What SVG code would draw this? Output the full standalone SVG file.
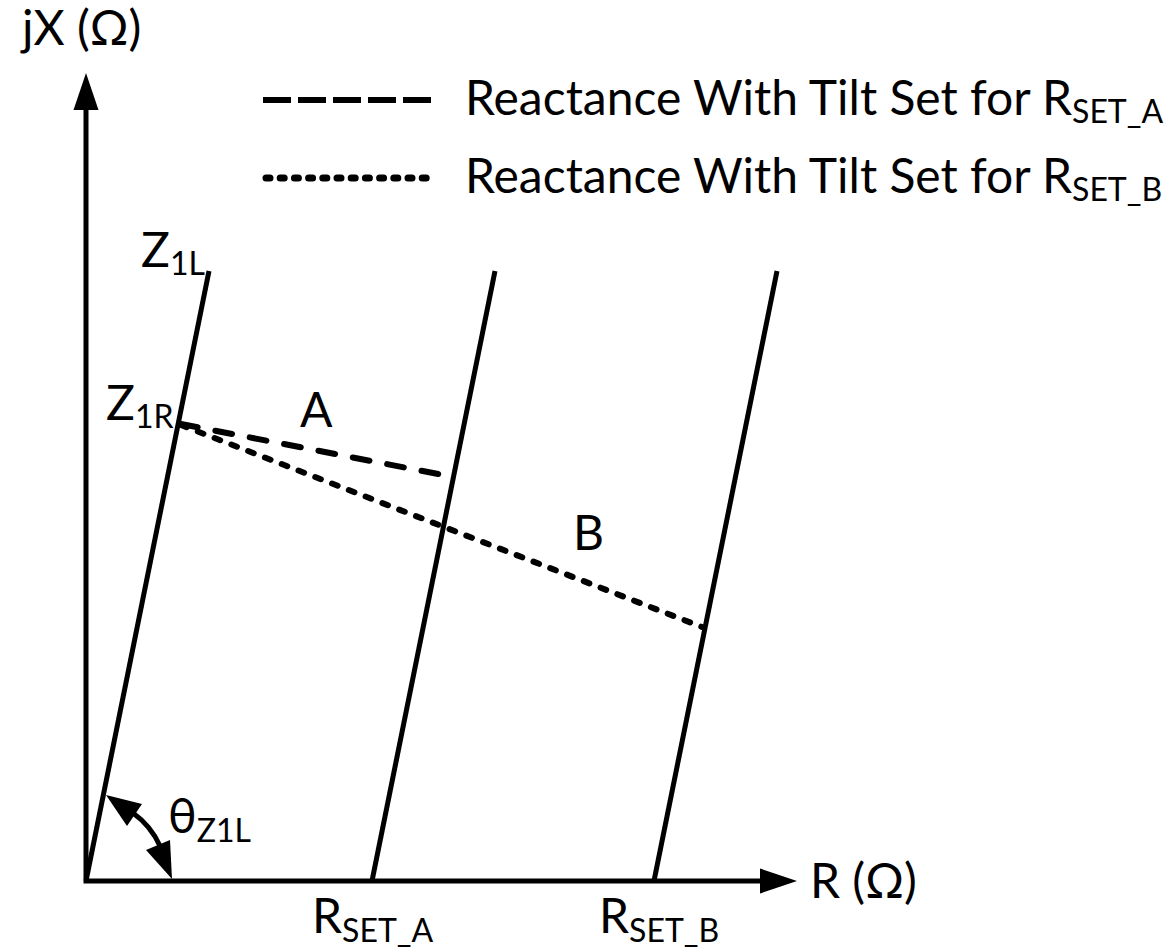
<svg xmlns="http://www.w3.org/2000/svg" width="1176" height="950" viewBox="0 0 1176 950">
<style>
text{font-family:Lato,"Open Sans","Liberation Sans",sans-serif;fill:#000;font-size:48px}
.sub{font-size:32px}
.ln{stroke:#000;stroke-width:5;fill:none}
.dash{stroke:#000;stroke-width:6;fill:none;stroke-linecap:round;stroke-dasharray:17 18}
.dot{stroke:#000;stroke-width:6;fill:none;stroke-linecap:round;stroke-dasharray:6 12}
.ah{fill:#000;stroke:none}
</style>
<rect width="1176" height="950" fill="#fff"/>
<g id="axes">
<path class="ln" d="M86,108 L86,881 L762,881" stroke-linejoin="miter"/>
<polygon class="ah" points="86,73 73.5,110 98.5,110"/>
<polygon class="ah" points="797,881 760,868.5 760,893.5"/>
<text x="22" y="45">jX (Ω)</text>
<text x="810" y="898">R (Ω)</text>
</g>
<g id="legend">
<line x1="263" y1="100" x2="431" y2="100" stroke="#000" stroke-width="6" stroke-dasharray="28 7"/>
<line x1="266" y1="178" x2="428" y2="178" stroke="#000" stroke-width="7" stroke-linecap="round" stroke-dasharray="4 10.2"/>
<text x="465" y="115">Reactance With Tilt Set for R<tspan class="sub" dy="8">SET_A</tspan></text>
<text x="465" y="193">Reactance With Tilt Set for R<tspan class="sub" dy="8">SET_B</tspan></text>
</g>
<g id="connectors">
<line id="z1l-line" class="ln" x1="86" y1="881" x2="209" y2="271"/>
<line id="rseta-line" class="ln" x1="372" y1="881" x2="495" y2="271"/>
<line id="rsetb-line" class="ln" x1="654" y1="881" x2="777" y2="271"/>
<line id="tilt-a" class="dash" x1="181" y1="424" x2="443" y2="475"/>
<line id="tilt-b" class="dot" x1="181" y1="425" x2="702" y2="627"/>
</g>
<g id="angle">
<path class="ln" d="M160,846 A82,82 0 0 0 133,813"/>
<polygon class="ah" points="172,879 146,850 170,840"/>
<polygon class="ah" points="106,795 142,804 127,826"/>
<text x="168" y="833">θ<tspan class="sub" dy="9">Z1L</tspan></text>
</g>
<g id="labels">
<text x="141" y="267">Z<tspan class="sub" dy="8">1L</tspan></text>
<text x="106" y="420">Z<tspan class="sub" dy="8">1R</tspan></text>
<text x="300" y="427">A</text>
<text x="573" y="550">B</text>
<text x="312" y="933">R<tspan class="sub" dy="9">SET_A</tspan></text>
<text x="599" y="933">R<tspan class="sub" dy="9">SET_B</tspan></text>
</g>
</svg>
